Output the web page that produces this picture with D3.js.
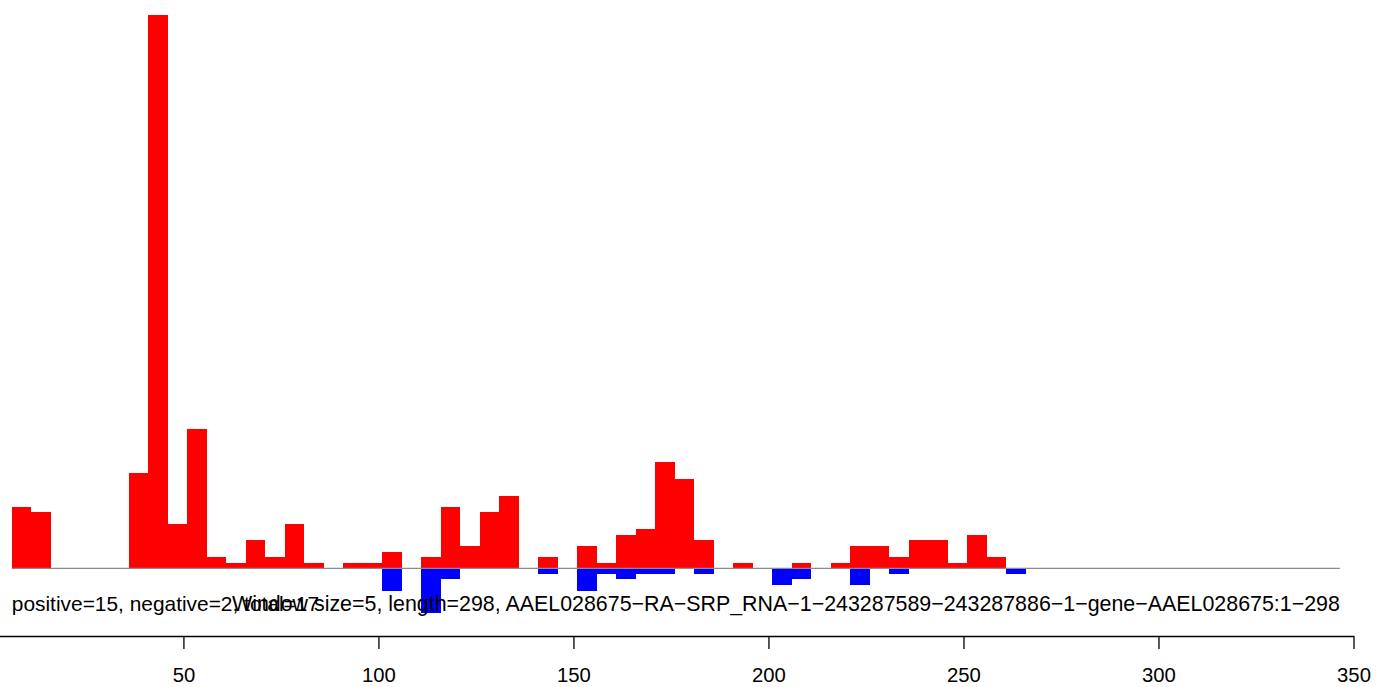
<!DOCTYPE html>
<html>
<head>
  <meta charset="utf-8">
  <title>positive / negative coverage</title>
  <style>
    body { margin: 0; background: #fff; }
    text { font-family: "Liberation Sans", Arial, sans-serif; fill: #000; }
  </style>
  <script src="https://d3js.org/d3.v7.min.js"></script>
</head>
<body>
  <script>
    // window starts (size 5) and counts per strand
    var binStarts = d3.range(6, 267, 5);
    var positive = [11, 10, 0, 0, 0, 0, 17, 99, 8, 25, 2, 1, 5, 2, 8, 1, 0, 1, 1, 3,
                    0, 2, 11, 4, 10, 13, 0, 2, 0, 4, 1, 6, 7, 19, 16, 5, 0, 1, 0, 0,
                    1, 0, 1, 4, 4, 2, 5, 5, 1, 6, 2, 0];
    var negative = [0, 0, 0, 0, 0, 0, 0, 0, 0, 0, 0, 0, 0, 0, 0, 0, 0, 0, 0, -4,
                    0, -8, -2, 0, 0, 0, 0, -1, 0, -4, -1, -2, -1, -1, 0, -1, 0, 0, 0, -3,
                    -2, 0, 0, -3, 0, -1, 0, 0, 0, 0, 0, -1];
    var windowSize = 5;
    var xTicks = [50, 100, 150, 200, 250, 300, 350];
    var leftLabel = "positive=15, negative=2, total=17";
    var rightLabel = "Window size=5, length=298, AAEL028675\u2212RA\u2212SRP_RNA\u22121\u2212243287589\u2212243287886\u22121\u2212gene\u2212AAEL028675:1\u2212298";

    var width = 1394, height = 687;
    var svg = d3.select("body").append("svg")
      .attr("width", width)
      .attr("height", height);

    var x = d3.scaleLinear().domain([0, 350]).range([-11.6, 1353.5]);
    var y = d3.scaleLinear().domain([0, 99]).range([568.3, 15]);

    var bins = binStarts.map(function(s, i) {
      return { start: s, pos: positive[i], neg: negative[i] };
    });

    // red = positive strand, above baseline
    svg.append("g").selectAll("rect")
      .data(bins.filter(function(d) { return d.pos > 0; }))
      .enter().append("rect")
        .attr("x", function(d) { return x(d.start); })
        .attr("width", function(d) { return x(d.start + windowSize) - x(d.start); })
        .attr("y", function(d) { return y(d.pos); })
        .attr("height", function(d) { return y(0) - y(d.pos); })
        .attr("fill", "#ff0000")
        .attr("shape-rendering", "crispEdges");

    // blue = negative strand, below baseline
    svg.append("g").selectAll("rect")
      .data(bins.filter(function(d) { return d.neg < 0; }))
      .enter().append("rect")
        .attr("x", function(d) { return x(d.start); })
        .attr("width", function(d) { return x(d.start + windowSize) - x(d.start); })
        .attr("y", y(0))
        .attr("height", function(d) { return y(d.neg) - y(0); })
        .attr("fill", "#0000ff")
        .attr("shape-rendering", "crispEdges");

    // baseline
    svg.append("line")
      .attr("x1", x(6)).attr("x2", x(346.5))
      .attr("y1", y(0)).attr("y2", y(0))
      .attr("stroke", "#8c8c8c")
      .attr("stroke-width", 1.2);

    // labels under the baseline (they overlap, as in the original)
    svg.append("text")
      .attr("x", x(6))
      .attr("y", 611)
      .style("font-size", "20.9px")
      .text(leftLabel);

    svg.append("text")
      .attr("x", x(346.5))
      .attr("y", 611)
      .attr("text-anchor", "end")
      .style("font-size", "21.4px")
      .text(rightLabel);

    // x axis, domain line runs from 0 (off the left edge) to 350
    var axis = svg.append("g")
      .attr("transform", "translate(0,636)")
      .call(d3.axisBottom(x).tickValues(xTicks).tickSize(13).tickPadding(19).tickSizeOuter(0));
    axis.select(".domain").attr("stroke", "#000").attr("stroke-width", 1.3);
    axis.selectAll(".tick line").attr("stroke", "#000").attr("stroke-width", 1.3);
    axis.selectAll(".tick text")
      .style("font-family", "'Liberation Sans', Arial, sans-serif")
      .style("font-size", "20.3px")
      .attr("fill", "#000");
  </script>
</body>
</html>
